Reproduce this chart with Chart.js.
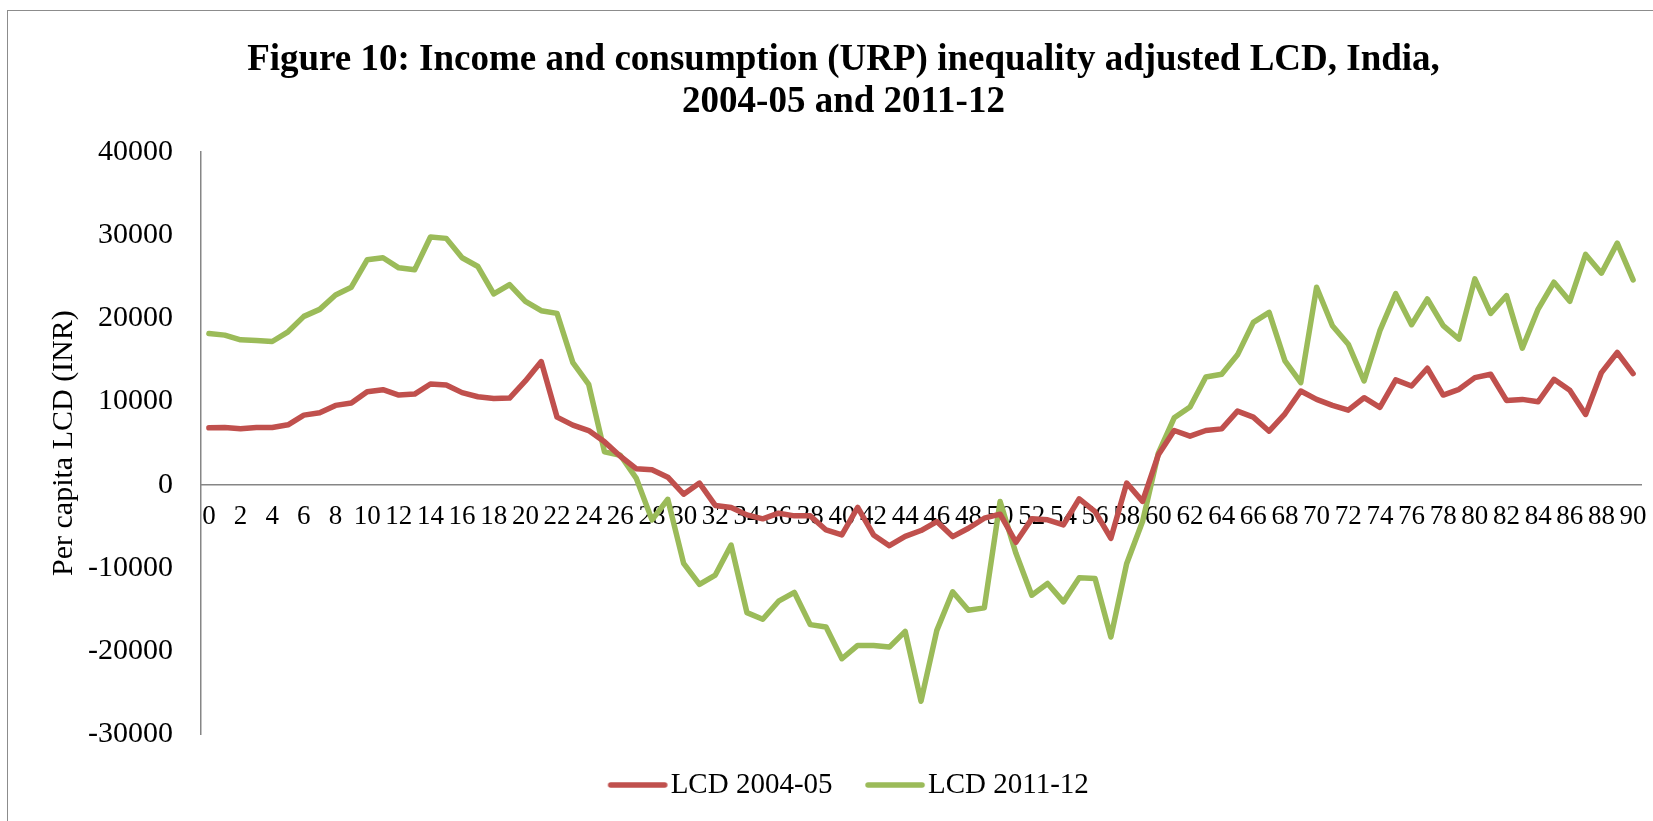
<!DOCTYPE html>
<html>
<head>
<meta charset="utf-8">
<title>Figure 10</title>
<script src="https://cdn.jsdelivr.net/npm/chart.js@4.4.1/dist/chart.umd.min.js"></script>
<style>
    html, body {
        margin: 0;
        padding: 0;
        background: #ffffff;
        overflow: hidden;
    }
    .frame {
        position: absolute;
        left: 7px;
        top: 10px;
        width: 1700px;
        height: 900px;
        border: 1.5px solid #8c8c8c;
    }
    .chart-box {
        position: absolute;
        left: 0;
        top: 0;
        width: 1680px;
        height: 821px;
    }
</style>
</head>
<body>
<div class="frame"></div>
<div class="chart-box">
    <canvas id="lcdChart" width="1680" height="821"></canvas>
</div>
<script>
// age categories on the x axis
const ages = ['0', '1', '2', '3', '4', '5', '6', '7', '8', '9',
    '10', '11', '12', '13', '14', '15', '16', '17', '18', '19',
    '20', '21', '22', '23', '24', '25', '26', '27', '28', '29',
    '30', '31', '32', '33', '34', '35', '36', '37', '38', '39',
    '40', '41', '42', '43', '44', '45', '46', '47', '48', '49',
    '50', '51', '52', '53', '54', '55', '56', '57', '58', '59',
    '60', '61', '62', '63', '64', '65', '66', '67', '68', '69',
    '70', '71', '72', '73', '74', '75', '76', '77', '78', '79',
    '80', '81', '82', '83', '84', '85', '86', '87', '88', '89',
    '90'];

const lcd2004 = [6830, 6870, 6710, 6870, 6870, 7200, 8360, 8640, 9530, 9810,
    11180, 11420, 10770, 10890, 12100, 11980, 11060, 10570, 10370, 10410,
    12460, 14790, 8120, 7160, 6510, 5150, 3420, 1930, 1810, 900,
    -1130, 200, -2490, -2730, -3620, -4100, -3420, -3740, -3740, -5430,
    -6030, -2730, -6030, -7320, -6200, -5500, -4420, -6230, -5230, -4020,
    -3540, -6910, -4100, -4220, -4820, -1690, -3220, -6430, 200, -2000,
    3600, 6510, 5830, 6510, 6710, 8840, 8120, 6430, 8520, 11260,
    10250, 9530, 8960, 10450, 9300, 12600, 11860, 13990, 10770, 11460,
    12860, 13270, 10130, 10250, 9970, 12660, 11340, 8440, 13470, 15880,
    13350];

const lcd2011 = [18170, 17970, 17400, 17330, 17200, 18370, 20220, 21060, 22790, 23720,
    27010, 27260, 26050, 25810, 29750, 29590, 27260, 26210, 22910, 24040,
    22030, 20900, 20580, 14670, 12060, 3940, 3540, 800, -4220, -1750,
    -9450, -11980, -10850, -7240, -15360, -16160, -13990, -12940, -16800, -17090,
    -20900, -19300, -19300, -19500, -17610, -26000, -17490, -12860, -15080, -14790,
    -2010, -8240, -13270, -11860, -14070, -11180, -11260, -18290, -9450, -4420,
    3800, 8040, 9330, 12940, 13270, 15600, 19500, 20700, 14870, 12260,
    23720, 19100, 16880, 12460, 18500, 22950, 19220, 22310, 19100, 17490,
    24720, 20580, 22710, 16400, 21100, 24320, 22030, 27660, 25410, 29020,
    24600];

const yMin = -30000;
const yMax = 40000;
const yStep = 10000;

const serif = "'Liberation Serif', 'Times New Roman', serif";
const axisGray = '#868686';
const red = '#c0504d';
const green = '#9bbb59';

// legend swatch: a short thick line that sits close to its label
function legendLine(color) {
    const c = document.createElement('canvas');
    c.width = 83;
    c.height = 10;
    const g = c.getContext('2d');
    g.strokeStyle = color;
    g.lineWidth = 5.5;
    g.lineCap = 'round';
    g.beginPath();
    g.moveTo(25, 5);
    g.lineTo(79, 5);
    g.stroke();
    return c;
}

const ctx = document.getElementById('lcdChart').getContext('2d');
new Chart(ctx, {
    type: 'line',
    data: {
        labels: ages,
        datasets: [
            {
                label: 'LCD 2004-05',
                data: lcd2004,
                borderColor: red,
                backgroundColor: red,
                pointStyle: legendLine(red),
                borderWidth: 5.5,
                borderCapStyle: 'round',
                borderJoinStyle: 'round',
                pointRadius: 0,
                tension: 0,
                fill: false
            },
            {
                label: 'LCD 2011-12',
                data: lcd2011,
                borderColor: green,
                backgroundColor: green,
                pointStyle: legendLine(green),
                borderWidth: 5.5,
                borderCapStyle: 'round',
                borderJoinStyle: 'round',
                pointRadius: 0,
                tension: 0,
                fill: false
            }
        ]
    },
    options: {
        responsive: false,
        animation: false,
        events: [],
        layout: {
            padding: { left: 46, right: 39, top: 0, bottom: 11.5 }
        },
        plugins: {
            title: {
                display: true,
                text: ['Figure 10: Income and consumption (URP) inequality adjusted LCD, India,',
                    '2004-05 and 2011-12'],
                color: '#000000',
                font: { family: serif, size: 37, weight: 'bold', lineHeight: 1.15 },
                padding: { top: 38.7, bottom: 27.9 }
            },
            legend: {
                position: 'bottom',
                title: {
                    display: true,
                    text: ' ',
                    font: { size: 10, lineHeight: 1.3 },
                    padding: 0
                },
                labels: {
                    usePointStyle: true,
                    pointStyleWidth: 58,
                    padding: 23,
                    color: '#000000',
                    font: { family: serif, size: 29 }
                }
            },
            tooltip: { enabled: false }
        },
        scales: {
            x: {
                type: 'category',
                position: { y: 0 },
                offset: true,
                grid: { display: false, drawTicks: false },
                border: { display: true, color: axisGray, width: 1.5 },
                ticks: {
                    autoSkip: false,
                    maxRotation: 0,
                    minRotation: 0,
                    padding: 16,
                    color: '#000000',
                    font: { family: serif, size: 27 },
                    callback: function(value, index) {
                        return index % 2 === 0 ? ages[index] : '';
                    }
                }
            },
            y: {
                min: yMin,
                max: yMax,
                grid: { display: false, drawTicks: false },
                border: { display: true, color: axisGray, width: 1.5 },
                ticks: {
                    stepSize: yStep,
                    padding: 28,
                    color: '#000000',
                    font: { family: serif, size: 30 },
                    callback: function(value) {
                        return String(value);
                    }
                },
                title: {
                    display: true,
                    text: 'Per capita LCD (INR)',
                    color: '#000000',
                    font: { family: serif, size: 30, lineHeight: 1.2 },
                    padding: { top: 0, bottom: 0 }
                },
                afterFit: function(scale) {
                    scale.width = 155;
                }
            }
        }
    }
});
</script>
</body>
</html>
